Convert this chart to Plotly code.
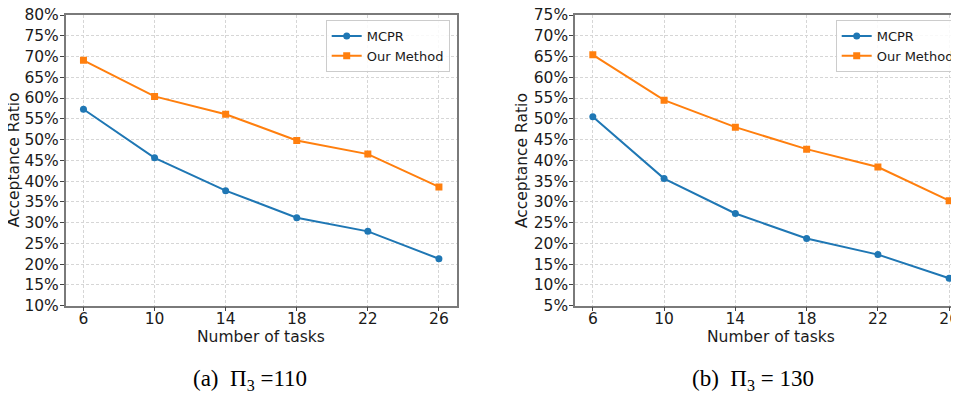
import plotly.graph_objects as go

W, H = 959, 397
OFF = 8  # the page body adds an 8px margin around the figure

tasks = [6, 10, 14, 18, 22, 26]
mcpr_a = [57.3, 45.6, 37.7, 31.2, 27.9, 21.3]
ours_a = [69.1, 60.4, 56.1, 49.8, 46.5, 38.6]
mcpr_b = [50.5, 35.6, 27.2, 21.2, 17.3, 11.6]
ours_b = [65.4, 54.5, 48.0, 42.7, 38.4, 30.3]

yticks_a = list(range(10, 81, 5))
yticks_b = list(range(5, 76, 5))
ylabels_a = [f"{v}%" for v in yticks_a]
ylabels_b = [f"{v}%" for v in yticks_b]
xticks = [6, 10, 14, 18, 22, 26]

series_names = ["MCPR", "Our Method"]
captions = ["(a)\u00a0\u00a0\u03a0<sub>3</sub>\u00a0=110", "(b)\u00a0\u00a0\u03a0<sub>3</sub>\u00a0=\u00a0130"]

BLUE = "#1f77b4"
ORANGE = "#ff7f0e"
FONT = "DejaVu Sans"

def px(x):
    return (x - OFF) / W

def py(y):
    return 1 - (y - OFF) / H

fig = go.Figure()

fig.add_trace(go.Scatter(x=tasks, y=mcpr_a, mode="lines+markers", name=series_names[0],
                         line=dict(color=BLUE, width=2), marker=dict(symbol="circle", size=7, color=BLUE),
                         xaxis="x", yaxis="y", legend="legend"))
fig.add_trace(go.Scatter(x=tasks, y=ours_a, mode="lines+markers", name=series_names[1],
                         line=dict(color=ORANGE, width=2), marker=dict(symbol="square", size=7, color=ORANGE),
                         xaxis="x", yaxis="y", legend="legend"))
fig.add_trace(go.Scatter(x=tasks, y=mcpr_b, mode="lines+markers", name=series_names[0],
                         line=dict(color=BLUE, width=2), marker=dict(symbol="circle", size=7, color=BLUE),
                         xaxis="x2", yaxis="y2", legend="legend2"))
fig.add_trace(go.Scatter(x=tasks, y=ours_b, mode="lines+markers", name=series_names[1],
                         line=dict(color=ORANGE, width=2), marker=dict(symbol="square", size=7, color=ORANGE),
                         xaxis="x2", yaxis="y2", legend="legend2"))

SPINE = "#7a7a7a"
GRID = "#d6d6d6"
tickfont = dict(family=FONT, size=15.5, color="#1a1a1a")

common_x = dict(tickvals=xticks, showgrid=True, gridcolor=GRID, griddash="3px,2px", gridwidth=0.9,
                showline=True, linecolor=SPINE, linewidth=1.5, ticks="outside", ticklen=4,
                tickcolor="#444", tickwidth=1, tickfont=tickfont, zeroline=False, mirror=True,
                ticklabeloverflow="allow", ticklabelstandoff=-6)
common_y = dict(showgrid=True, gridcolor=GRID, griddash="3px,2px", gridwidth=0.9,
                showline=True, linecolor=SPINE, linewidth=1.5, ticks="outside", ticklen=4,
                tickcolor="#444", tickwidth=1, tickfont=tickfont, zeroline=False, mirror=True,
                ticklabeloverflow="allow", ticklabelstandoff=-2)

y_dom = [py(305.7), py(15)]

fig.update_layout(
    width=W, height=H,
    margin=dict(l=0, r=0, t=0, b=0, autoexpand=False),
    paper_bgcolor="white", plot_bgcolor="white",
    xaxis=dict(domain=[px(65.7), px(456.7)], range=[5, 27], anchor="y", **common_x),
    yaxis=dict(domain=y_dom, range=[10, 80], tickvals=yticks_a, ticktext=ylabels_a, anchor="x", **common_y),
    xaxis2=dict(domain=[px(575), 1.0], range=[5, 27], anchor="y2", **common_x),
    yaxis2=dict(domain=y_dom, range=[5, 75], tickvals=yticks_b, ticktext=ylabels_b, anchor="x2", **common_y),
    legend=dict(x=px(325.7), y=py(20), xanchor="left", yanchor="top",
                bgcolor="rgba(255,255,255,0.85)", bordercolor="#cccccc", borderwidth=1,
                font=dict(family=FONT, size=13, color="#1a1a1a"), tracegroupgap=0),
    legend2=dict(x=px(835.7), y=py(20), xanchor="left", yanchor="top",
                 bgcolor="rgba(255,255,255,0.85)", bordercolor="#cccccc", borderwidth=1,
                 font=dict(family=FONT, size=13, color="#1a1a1a"), tracegroupgap=0),
    showlegend=True,
)

title_font = dict(family=FONT, size=15.5, color="#1a1a1a")
plot_mid_y = py((15 + 305.7) / 2)
annotations = [
    dict(text="Acceptance Ratio", x=px(14), y=plot_mid_y, textangle=-90, font=title_font),
    dict(text="Acceptance Ratio", x=px(522.7), y=plot_mid_y, textangle=-90, font=title_font),
    dict(text="Number of tasks", x=px(261.2), y=py(336.7), font=title_font),
    dict(text="Number of tasks", x=px(771), y=py(336.7), font=title_font),
    dict(text=captions[0], x=px(250), y=py(380), font=dict(family="Liberation Serif", size=23, color="black")),
    dict(text=captions[1], x=px(753.3), y=py(380), font=dict(family="Liberation Serif", size=23, color="black")),
]
for a in annotations:
    a.update(xref="paper", yref="paper", showarrow=False, xanchor="center", yanchor="middle")
fig.update_layout(annotations=annotations)

fig.write_html("out.html")
